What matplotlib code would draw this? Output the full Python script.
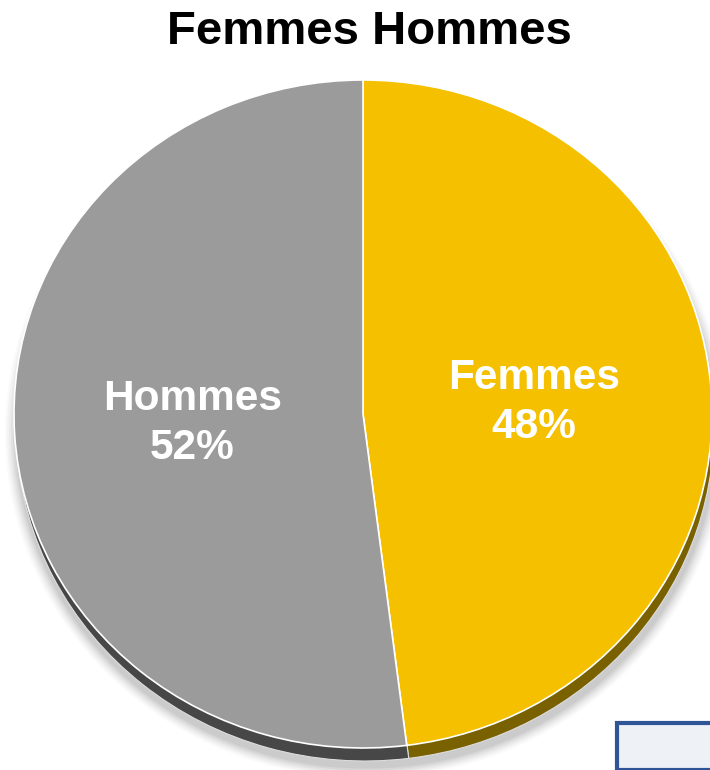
import numpy as np
import matplotlib
matplotlib.use("Agg")
import matplotlib.pyplot as plt
from matplotlib.patches import Rectangle, Ellipse

plt.rcParams['font.family'] = ['Liberation Sans', 'DejaVu Sans']

categories = ['Femmes', 'Hommes']
values = [48, 52]
colors = ['#F4C000', '#9B9B9B']
shadow_colors = ['#7A6100', '#474747']
title = 'Femmes Hommes'

W, H = 710, 770
k = 334 / 349.0  # vertical squash (tilted pie)
fig = plt.figure(figsize=(W / 100, H / 100), dpi=100)
ax = fig.add_axes([0, 0, 1, 1])

R = 349
cx = 363
cy = (H - 414) / k
cy_shadow = (H - 427) / k

# soft outer shadow
for i, a in enumerate(np.linspace(0.05, 0.02, 6)):
    ax.add_patch(Ellipse((cx + 3, cy_shadow - 6), 2 * (R + 2 + i * 2), 2 * (R + 2 + i * 2),
                         facecolor='#000000', alpha=a, edgecolor='none', zorder=0))

# 3D side (shadow layer)
ax.pie(values, colors=shadow_colors, startangle=90, counterclock=False,
       radius=R, center=(cx + 2, cy_shadow),
       wedgeprops=dict(edgecolor='#DDDDDD', linewidth=0.8), frame=False)

wedges, _ = ax.pie(values, colors=colors, startangle=90, counterclock=False,
                   radius=R, center=(cx, cy),
                   wedgeprops=dict(edgecolor='white', linewidth=1.2), frame=False)
for w in wedges:
    w.set_zorder(3)

for w, cat, v in zip(wedges, categories, values):
    mid = np.deg2rad((w.theta1 + w.theta2) / 2)
    f = 0.49
    x = cx + f * R * np.cos(mid)
    y = cy + f * R * np.sin(mid) + 1 / k
    ax.text(x, y, f"{cat}\n{v}%", ha='center', va='center', color='white',
            fontsize=30.5, fontweight='bold', linespacing=1.3, zorder=5)

ax.set_aspect('auto')
ax.set_xlim(0, W)
ax.set_ylim(0, H / k)
ax.axis('off')

fig.text(0.52, 1 - 32 / H, title, ha='center', va='center', fontsize=34,
         fontweight='bold', color='black')

# small framed box in the bottom-right corner
fig.patches.append(Rectangle((617 / W, 0), 100 / W, 47 / H, transform=fig.transFigure,
                             facecolor='#EEF1F6', edgecolor='#2F5597', linewidth=3, zorder=10))

fig.savefig('out.png', dpi=100)
